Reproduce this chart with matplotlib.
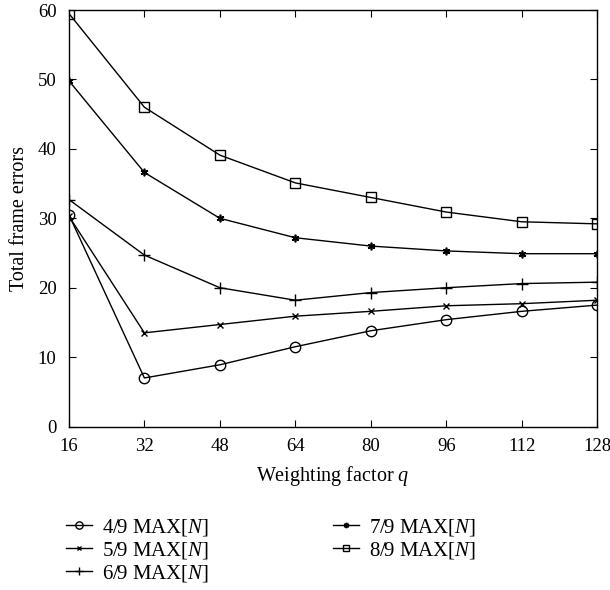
import matplotlib
matplotlib.use("Agg")
import matplotlib.pyplot as plt

q = [16, 32, 48, 64, 80, 96, 112, 128]
s49 = [30.5, 7.0, 8.9, 11.5, 13.8, 15.4, 16.6, 17.5]
s59 = [30.3, 13.5, 14.7, 15.9, 16.6, 17.4, 17.7, 18.2]
s69 = [32.7, 24.7, 20.0, 18.2, 19.3, 20.0, 20.6, 20.8]
s79 = [49.8, 36.6, 30.0, 27.2, 26.0, 25.3, 24.9, 24.9]
s89 = [59.5, 46.0, 39.1, 35.1, 33.0, 30.9, 29.5, 29.2]
labels = ["4/9 MAX$[N]$", "5/9 MAX$[N]$", "6/9 MAX$[N]$", "7/9 MAX$[N]$", "8/9 MAX$[N]$"]
xticks = [16, 32, 48, 64, 80, 96, 112, 128]
yticks = [0, 10, 20, 30, 40, 50, 60]

plt.rcParams['font.family'] = ['Liberation Serif', 'DejaVu Serif']
plt.rcParams['mathtext.fontset'] = 'custom'
plt.rcParams['mathtext.rm'] = 'Liberation Serif'
plt.rcParams['mathtext.it'] = 'Liberation Serif:italic'

fig = plt.figure(figsize=(6.1, 5.9), dpi=100)
ax = fig.add_axes([0.113, 0.277, 0.866, 0.706])

kw = dict(color='black', lw=1.0, mfc='none', mec='black')
ax.plot(q, s49, marker='o', ms=7.5, label=labels[0], **kw)
ax.plot(q, s59, marker='x', ms=4.5, mew=1.0, label=labels[1], **kw)
ax.plot(q, s69, marker='+', ms=9, mew=1.0, label=labels[2], **kw)
ax.plot(q, s79, marker=(6, 2, 0), ms=5.5, mew=1.2, label=labels[3], **kw)
ax.plot(q, s89, marker='s', ms=7, label=labels[4], **kw)

ax.set_xlim(16, 128)
ax.set_ylim(0, 60)
ax.set_xticks(xticks)
ax.set_yticks(yticks)
ax.tick_params(direction='in', top=True, right=True, labelsize=13.5, length=5)
ax.tick_params(axis='x', pad=8.5)
ax.tick_params(axis='y', pad=9)
for sp in ax.spines.values():
    sp.set_linewidth(1.0)
ax.set_xlabel("Weighting factor $q$", fontsize=14.5, labelpad=6)
ax.set_ylabel("Total frame errors", fontsize=14.5, labelpad=6)

fig.legend(loc='upper left', bbox_to_anchor=(0.0906, 0.1415), ncol=2, frameon=False,
           fontsize=15, handlelength=1.25, columnspacing=5.95, labelspacing=0.1,
           handletextpad=0.48, borderpad=0, markerscale=0.7)

fig.savefig("out.png", dpi=100)
